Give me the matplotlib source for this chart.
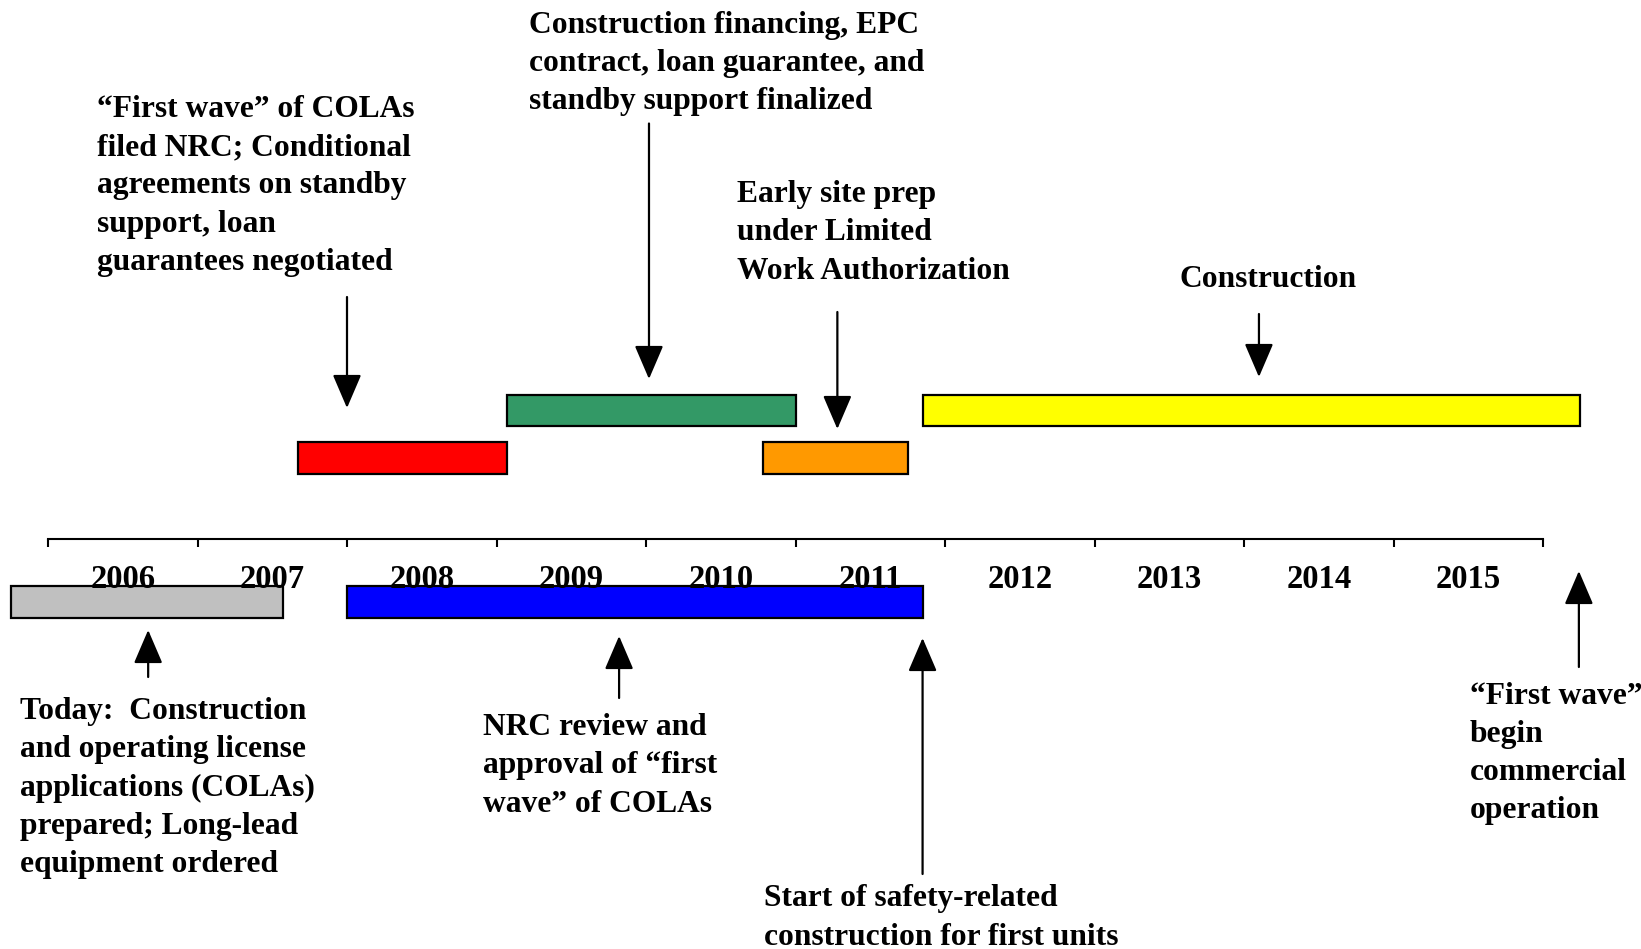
import matplotlib.pyplot as plt
from matplotlib.patches import FancyArrowPatch

# Timeline years (labels sit in the middle of each year)
years = list(range(2006, 2016))

# Phase bars: start / end in fractional years
bar_names = ['Today', 'NRC review', 'First wave filed', 'Financing', 'Early site prep', 'Construction']
bar_start = [2005.75, 2008.00, 2007.67, 2009.07, 2010.78, 2011.85]
bar_end = [2007.57, 2011.85, 2009.07, 2011.00, 2011.75, 2016.25]
bar_colors = ['#C0C0C0', '#0000FF', '#FF0000', '#339966', '#FF9900', '#FFFF00']
bar_row = ['below', 'below', 'low', 'high', 'low', 'high']

# Event arrows: date each arrow points at
arrow_dates = [2008.00, 2010.02, 2011.28, 2014.10, 2006.67, 2009.82, 2011.85, 2016.24]

labels = [
    '\u201cFirst wave\u201d of COLAs\nfiled NRC; Conditional\nagreements on standby\nsupport, loan\nguarantees negotiated',
    'Construction financing, EPC\ncontract, loan guarantee, and\nstandby support finalized',
    'Early site prep\nunder Limited\nWork Authorization',
    'Construction',
    'Today:  Construction\nand operating license\napplications (COLAs)\nprepared; Long-lead\nequipment ordered',
    'NRC review and\napproval of \u201cfirst\nwave\u201d of COLAs',
    'Start of safety-related\nconstruction for first units',
    '\u201cFirst wave\u201d\nbegin\ncommercial\noperation',
]
# label anchor dates (left edge of each text block)
label_dates = [2006.33, 2009.22, 2010.61, 2013.57, 2005.81, 2008.91, 2010.79, 2015.51]

# layout (pixel-like vertical units, top = 0)
row_y = {'high': (394.6, 426), 'low': (441.7, 474), 'below': (586, 617.5)}
arrow_y = [(297, 408), (123.5, 379), (312, 429), (314, 377),
           (677, 630), (698, 636), (874, 638), (667, 571)]
label_y = [185.8, 63.3, 232.9, 279.4, 788, 766, 918, 753.6]
axis_y = 539
tick_len = 8
year_label_y = 579

font = ['Liberation Serif', 'DejaVu Serif']

fig = plt.figure(figsize=(16.41, 9.49), dpi=100)
ax = fig.add_axes([0, 0, 1, 1])
ax.set_xlim(2006 - 48 / 149.5, 2006 + 1593 / 149.5)
ax.set_ylim(949, 0)
ax.axis('off')

# bars
for s, e, c, r in zip(bar_start, bar_end, bar_colors, bar_row):
    top, bottom = row_y[r]
    ax.barh((top + bottom) / 2, e - s, left=s, height=bottom - top,
            color=c, edgecolor='black', linewidth=1.6, zorder=2)

# timeline axis
ax.plot([years[0], years[-1] + 1], [axis_y, axis_y], color='black', lw=1.5, zorder=1)
ax.vlines(years + [years[-1] + 1], axis_y, axis_y + tick_len, color='black', lw=1.5)
for yr in years:
    ax.text(yr + 0.5, year_label_y, str(yr), ha='center', va='center',
            fontsize=23.5, fontweight='bold', family=font, zorder=5)

# arrows
for x, (y0, y1) in zip(arrow_dates, arrow_y):
    arr = FancyArrowPatch((x, y0), (x, y1), arrowstyle='-|>,head_length=1.4,head_width=0.6',
                          mutation_scale=15, color='black', lw=1.6, shrinkA=0, shrinkB=0, zorder=4)
    ax.add_patch(arr)

# annotations
for txt, x, y in zip(labels, label_dates, label_y):
    ax.text(x, y, txt, ha='left', va='center', fontsize=22.7, fontweight='bold',
            family=font, linespacing=1.42, zorder=5)

fig.savefig('out.png', dpi=100)
